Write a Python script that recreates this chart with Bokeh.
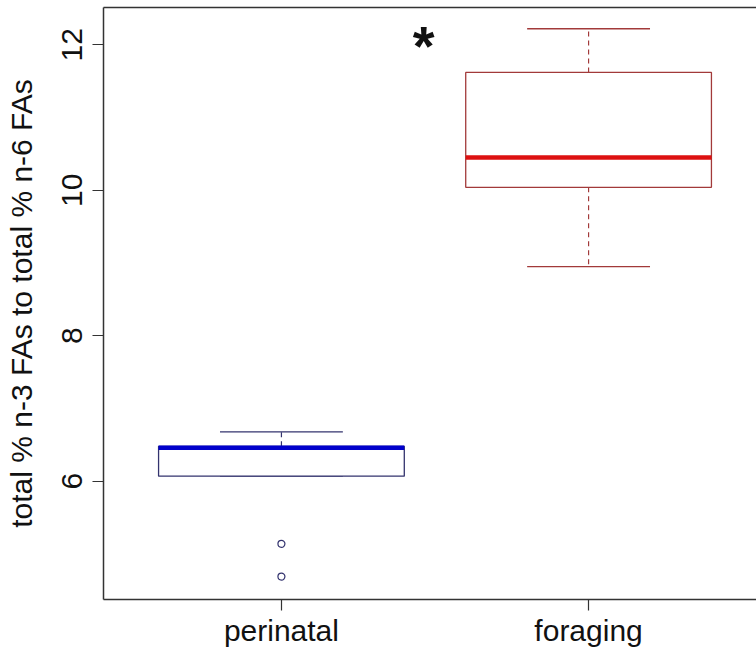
from bokeh.plotting import figure
from bokeh.models import LinearAxis, FixedTicker, ColumnDataSource
from bokeh.core.properties import value
from bokeh.embed import file_html
from bokeh.resources import INLINE

# Box-plot summary per group: whiskers, quartiles, median
groups = ["perinatal", "foraging"]
whisker_low = [6.07, 8.95]
q1 = [6.07, 10.04]
median = [6.46, 10.45]
q3 = [6.48, 11.62]
whisker_high = [6.68, 12.22]

# points beyond the whiskers (perinatal only)
outlier_group = ["perinatal", "perinatal"]
outlier_value = [5.14, 4.69]

y_ticks = [6, 8, 10, 12]
axis_title = "total % n-3 FAs to total % n-6 FAs"

# significance mark, placed between the groups near the top
star_x = 1.463
star_y = 11.99

thin_colors = ["#33336e", "#a23a3a"]
median_colors = ["#0000cc", "#dd1111"]
frame_color = "#333333"
FONT = "Liberation Sans"

pos = [i + 1 for i in range(len(groups))]
box_w = 0.8
cap_w = 0.4

p = figure(
    width=756, height=650,
    x_range=(0.4207, 2.5467), y_range=(4.375, 12.512),
    output_backend="svg", toolbar_location=None,
    min_border_left=103, min_border_right=0,
    min_border_top=7, min_border_bottom=51,
    background_fill_color="white", border_fill_color="white",
)
p.outline_line_color = None
p.xgrid.visible = False
p.ygrid.visible = False

# axes: numeric positions labelled with the group names
xa = p.xaxis[0]
xa.ticker = FixedTicker(ticks=pos)
xa.major_label_overrides = {i + 1: g for i, g in enumerate(groups)}
ya = p.yaxis[0]
ya.ticker = FixedTicker(ticks=y_ticks)
ya.axis_label = axis_title
ya.major_label_orientation = "vertical"

for ax in (xa, ya):
    ax.axis_line_color = frame_color
    ax.axis_line_width = 1.5
    ax.major_tick_line_color = frame_color
    ax.major_tick_line_width = 1.2
    ax.major_tick_in = 0
    ax.major_tick_out = 11
    ax.minor_tick_in = 0
    ax.minor_tick_out = 0
    ax.major_label_text_font = FONT
    ax.major_label_text_font_size = "30px"
    ax.major_label_text_color = "#111111"
    ax.axis_label_text_font = FONT
    ax.axis_label_text_font_size = "30px"
    ax.axis_label_text_font_style = "normal"
    ax.axis_label_text_color = "#111111"

xa.major_label_standoff = 3
ya.major_label_standoff = 10
ya.axis_label_standoff = 22

# top border of the plotting region (no ticks)
top = LinearAxis(ticker=FixedTicker(ticks=[]), axis_line_color=frame_color,
                 axis_line_width=1.5, major_tick_out=0, major_tick_in=0,
                 minor_tick_out=0, minor_tick_in=0, major_label_standoff=0)
p.add_layout(top, "above")

src = ColumnDataSource(dict(
    x=pos,
    left=[x - box_w / 2 for x in pos], right=[x + box_w / 2 for x in pos],
    cap_l=[x - cap_w / 2 for x in pos], cap_r=[x + cap_w / 2 for x in pos],
    lo=whisker_low, q1=q1, med=median, q3=q3, hi=whisker_high,
    thin=thin_colors, medc=median_colors,
))

# whiskers (dashed) from box edges to the caps
p.segment(x0="x", y0="q3", x1="x", y1="hi", source=src,
          line_color="thin", line_width=1.2, line_dash="5 4")
p.segment(x0="x", y0="q1", x1="x", y1="lo", source=src,
          line_color="thin", line_width=1.2, line_dash="5 4")
# caps
p.segment(x0="cap_l", y0="hi", x1="cap_r", y1="hi", source=src,
          line_color="thin", line_width=1.3)
p.segment(x0="cap_l", y0="lo", x1="cap_r", y1="lo", source=src,
          line_color="thin", line_width=1.3)
# boxes
p.quad(left="left", right="right", bottom="q1", top="q3", source=src,
       fill_color="white", line_color="thin", line_width=1.3)
# medians
p.segment(x0="left", y0="med", x1="right", y1="med", source=src,
          line_color="medc", line_width=4.5)

# outliers
ox = [groups.index(g) + 1 for g in outlier_group]
p.scatter(ox, outlier_value, marker="circle", size=7,
          fill_color="white", line_color=thin_colors[0], line_width=1.2)

# significance asterisk
p.text([star_x], [star_y], text=["*"], text_font=value(FONT),
       text_font_size="56px", text_font_style="bold", text_align="center",
       text_baseline="alphabetic", text_color="#111111")

open("out.html", "w").write(file_html(p, INLINE))
